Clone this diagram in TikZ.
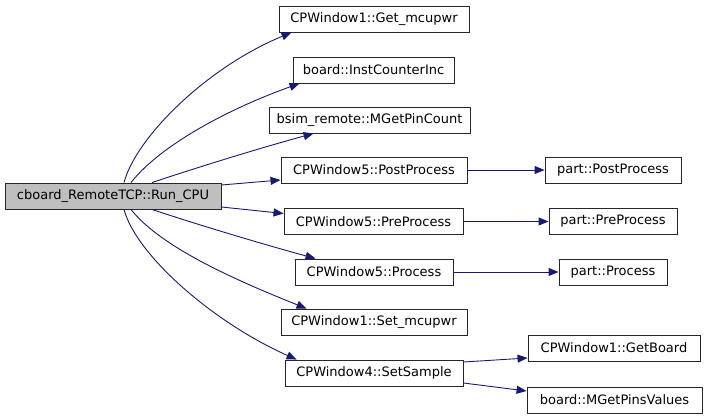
\documentclass[tikz,border=0pt]{standalone}
\usepackage{fontspec}
\setmainfont{DejaVu Sans}
\usetikzlibrary{arrows.meta}
\definecolor{edgeblue}{HTML}{191970}
\definecolor{rootgray}{HTML}{BFBFBF}
\tikzset{
  fn/.style={draw=black!85, line width=0.9pt, fill=white, inner sep=0pt,
    minimum height=26pt, font=\fontsize{13}{15}\selectfont, text=black},
  rootfn/.style={fn, fill=rootgray},
  edge/.style={draw=edgeblue, line width=0.9pt,
    -{Triangle[length=10pt,width=8pt]}, fill=none},
}
\begin{document}
\begin{tikzpicture}[x=1pt,y=-1pt]
\useasboundingbox (0,0) rectangle (705,417);
% nodes
\node[rootfn, minimum width=216pt] (run)  at (113,196) {cboard\_RemoteTCP::Run\_CPU};
\node[fn, minimum width=190pt] (get)  at (374,19)  {CPWindow1::Get\_mcupwr};
\node[fn, minimum width=161pt] (inst) at (373.5,70) {board::InstCounterInc};
\node[fn, minimum width=201pt] (pinc) at (369.5,120) {bsim\_remote::MGetPinCount};
\node[fn, minimum width=186pt] (post) at (374,170) {CPWindow5::PostProcess};
\node[fn, minimum width=179pt] (pre)  at (373.5,221.5) {CPWindow5::PreProcess};
\node[fn, minimum width=158pt] (proc) at (374,272) {CPWindow5::Process};
\node[fn, minimum width=186pt] (setm) at (374,322) {CPWindow1::Set\_mcupwr};
\node[fn, minimum width=178pt] (samp) at (374,373) {CPWindow4::SetSample};
\node[fn, minimum width=136pt] (ppost) at (613,170) {part::PostProcess};
\node[fn, minimum width=128pt] (ppre)  at (613,221.5) {part::PreProcess};
\node[fn, minimum width=108pt] (pproc) at (613,272) {part::Process};
\node[fn, minimum width=172pt] (gb)  at (614,348) {CPWindow1::GetBoard};
\node[fn, minimum width=175pt] (mpv) at (614.5,400) {board::MGetPinsValues};
% edges from run
\draw[edge] ([xshift=11pt]run.north) .. controls +(12,-45) and +(-85,35) .. ([xshift=13pt]get.south west);
\draw[edge] ([xshift=18pt]run.north) .. controls +(30,-38) and +(-70,25) .. ([xshift=7pt]inst.south west);
\draw[edge] ([xshift=39pt]run.north) .. controls +(45,-15) and +(-55,15) .. ([xshift=45pt]pinc.south west);
\draw[edge] ([yshift=11pt]run.east) -- ([yshift=-10pt]post.west);
\draw[edge] ([yshift=-11pt]run.east) -- ([yshift=8pt]pre.west);
\draw[edge] ([xshift=39pt]run.south) .. controls +(45,15) and +(-55,-15) .. ([xshift=21pt]proc.north west);
\draw[edge] ([xshift=18pt]run.south) .. controls +(30,38) and +(-70,-28) .. ([xshift=26pt]setm.north west);
\draw[edge] ([xshift=11pt]run.south) .. controls +(12,45) and +(-85,-38) .. ([xshift=12pt]samp.north west);
% second level
\draw[edge] (post.east) -- (ppost.west);
\draw[edge] (pre.east) -- (ppre.west);
\draw[edge] (proc.east) -- (pproc.west);
\draw[edge] ([yshift=11pt]samp.east) -- ([yshift=-10pt]gb.west);
\draw[edge] ([yshift=-10pt]samp.east) -- ([yshift=9pt]mpv.west);
\end{tikzpicture}
\end{document}
